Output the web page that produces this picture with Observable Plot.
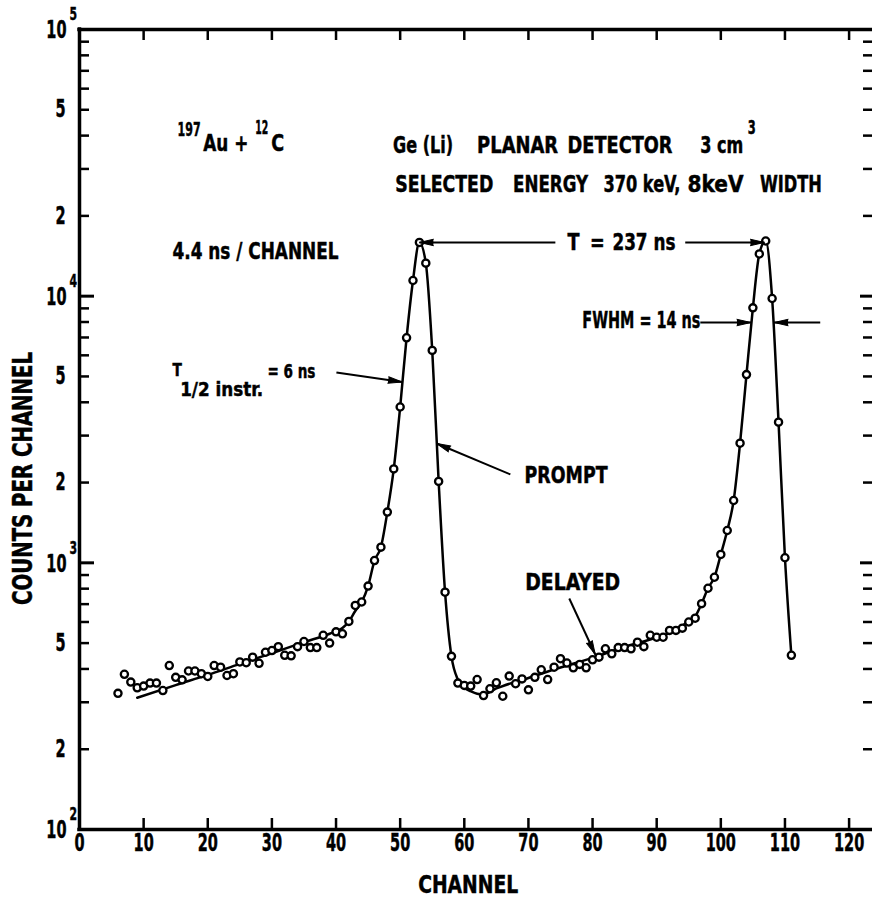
<!DOCTYPE html>
<html>
<head>
<meta charset="utf-8">
<script src="https://cdn.jsdelivr.net/npm/d3@7"></script>
<script src="https://cdn.jsdelivr.net/npm/@observablehq/plot@0.6"></script>
<style>
  html, body { margin: 0; padding: 0; background: #fff; }
  svg { display: block; }
  svg text { stroke: #000; stroke-width: 0.45px; }
</style>
</head>
<body>
<div id="chart"></div>
<script>
// ---------------- data ----------------
const channels = [6,7,8,9,10,11,12,13,14,15,16,17,18,19,20,21,22,23,24,25,26,27,28,29,30,31,32,33,34,35,36,37,38,39,40,41,42,43,44,45,46,47,48,49,50,51,52,53,54,55,56,57,58,59,60,61,62,63,64,65,66,67,68,69,70,71,72,73,74,75,76,77,78,79,80,81,82,83,84,85,86,87,88,89,90,91,92,93,94,95,96,97,98,99,100,101,102,103,104,105,106,107,108,109,110,111];
const counts = [324,382,357,340,345,354,354,332,412,372,364,393,393,384,375,412,406,378,384,425,422,443,420,462,469,485,450,448,485,507,481,481,535,500,551,542,603,692,713,818,1020,1145,1550,2250,3840,6980,11450,15900,13300,6260,2020,776,446,354,347,345,365,318,337,355,316,376,352,367,334,372,397,365,406,437,421,404,416,404,433,443,476,456,481,481,476,504,485,535,526,526,558,558,569,600,620,703,803,883,1075,1322,1713,2810,5080,9040,14400,16100,9800,3370,1045,450];

// drawn fit curve
const fitChannels = [9,15,20,25,30,35,39,41,42,43,44,45,46,47,48,49,50,51,52,53,54,55,56,57,58,59,60,61,62,63,65,70,75,80,85,90,93,95,96,97,98,99,100,101,102,103,104,105,106,107,108,109,110,111];
const fitCounts = [312,348,380,418,458,504,542,570,603,660,713,818,1020,1145,1550,2250,3840,6980,11450,15900,13300,6260,2020,776,446,365,340,330,323,321,338,370,405,440,485,525,560,605,630,703,803,883,1075,1322,1713,2810,5080,9040,14400,16100,9800,3370,1045,450];

// axes
const xTicks = [0,10,20,30,40,50,60,70,80,90,100,110,120];
const yDecades = [100,1000,10000,100000];
const yDecadeExponents = ["2","3","4","5"];
const yMinorTicks = [200,300,400,500,600,700,800,900,2000,3000,4000,5000,6000,7000,8000,9000,20000,30000,40000,50000,60000,70000,80000,90000];
const yMidLabelValues = [200,500,2000,5000,20000,50000];
const yMidLabels = ["2","5","2","5","2","5"];
const xTitle = "CHANNEL";
const yTitle = "COUNTS PER CHANNEL";

// annotations (channel, counts at text baseline, printed width in px)
const textMain = [
  {t: "Au +", x: 19.3, y: 34900, w: 45},
  {t: "C", x: 29.9, y: 34900},
  {t: "Ge (Li)", x: 48.9, y: 34300, w: 60},
  {t: "PLANAR", x: 62.0, y: 34300, w: 81},
  {t: "DETECTOR", x: 76.1, y: 34300, w: 105},
  {t: "3 cm", x: 96.8, y: 34300, w: 43},
  {t: "SELECTED", x: 49.25, y: 24500, w: 98},
  {t: "ENERGY", x: 67.6, y: 24500, w: 75},
  {t: "370 keV,", x: 81.7, y: 24500, w: 77},
  {t: "8keV", x: 94.8, y: 24500, w: 56},
  {t: "WIDTH", x: 106.1, y: 24500, w: 62},
  {t: "4.4 ns / CHANNEL", x: 14.5, y: 13840, w: 166},
  {t: "T", x: 76.1, y: 14960},
  {t: "=", x: 79.6, y: 14960},
  {t: "237 ns", x: 83.1, y: 14960, w: 63},
  {t: "FWHM = 14 ns", x: 78.4, y: 7565, w: 118},
  {t: "PROMPT", x: 69.4, y: 2001, w: 83},
  {t: "DELAYED", x: 69.5, y: 788, w: 95}
];
const textSup = [
  {t: "197", x: 15.3, y: 40000, w: 23},
  {t: "12", x: 27.4, y: 40500, w: 13},
  {t: "3", x: 104.2, y: 40500}
];
const textHalf = [
  {t: "T", x: 14.5, y: 5040, s: 18},
  {t: "1/2 instr.", x: 15.7, y: 4240, s: 20, w: 83},
  {t: "= 6 ns", x: 29.3, y: 4913, s: 20, w: 48}
];
const titleWidths = [{t: xTitle, w: 100}, {t: yTitle, w: 253}];
const arrows = [
  {x1: 74.2, y1: 15900, x2: 53.0, y2: 15900},
  {x1: 94.45, y1: 15900, x2: 106.8, y2: 15900},
  {x1: 96.8, y1: 7965, x2: 104.7, y2: 7965},
  {x1: 115.5, y1: 7965, x2: 108.3, y2: 7965},
  {x1: 40.06, y1: 5173, x2: 50.3, y2: 4766},
  {x1: 67.18, y1: 2145, x2: 55.7, y2: 2802},
  {x1: 76.37, y1: 735, x2: 80.42, y2: 453}
];

// ---------------- chart ----------------
const W = 872, H = 899, ML = 79, MR = 0, MT = 29, MB = 70;
const frameW = W - ML - MR, frameH = H - MT - MB;
const xDomain = [0, 123.65], yDomain = [100, 100000];
const FONT = '"DejaVu Sans", sans-serif';

const sx = Plot.scale({x: {domain: xDomain, range: [ML, W - MR]}});
const sy = Plot.scale({y: {type: "log", domain: yDomain, range: [H - MB, MT]}});
const angle = d => Math.atan2(sx.apply(d.x2) - sx.apply(d.x1), -(sy.apply(d.y2) - sy.apply(d.y1))) * 180 / Math.PI;

const points = channels.map((c, i) => ({c, n: counts[i]}));
const fit = fitChannels.map((c, i) => ({c, n: fitCounts[i]}));

const chart = Plot.plot({
  width: W, height: H,
  marginLeft: ML, marginRight: MR, marginTop: MT, marginBottom: MB,
  x: {domain: xDomain, axis: null},
  y: {type: "log", domain: yDomain, axis: null},
  style: {fontFamily: FONT, fontWeight: "bold", fontStretch: "condensed", background: "#fff", color: "#000"},
  marks: [
    // frame
    Plot.ruleX([0], {strokeWidth: 3.5, strokeLinecap: "square"}),
    Plot.ruleY([100], {strokeWidth: 3.5, strokeLinecap: "square"}),
    Plot.ruleY([100000], {strokeWidth: 3.5, strokeLinecap: "square"}),
    // ticks (inward)
    Plot.tickY(yDecades, {y: d => d, insetRight: frameW - 15, strokeWidth: 3}),
    Plot.tickY(yMinorTicks, {y: d => d, insetRight: frameW - 10, strokeWidth: 2.5}),
    Plot.tickY(yDecades, {y: d => d, insetLeft: frameW - 12, strokeWidth: 3}),
    Plot.tickY(yMinorTicks, {y: d => d, insetLeft: frameW - 9, strokeWidth: 2.5}),
    Plot.tickX(xTicks.filter(d => d > 0), {x: d => d, insetTop: frameH - 11, strokeWidth: 2.5}),
    Plot.tickX(xTicks.filter(d => d > 0), {x: d => d, insetBottom: frameH - 11, strokeWidth: 2.5}),
    // tick labels
    Plot.text(xTicks, {x: d => d, text: d => String(d), frameAnchor: "bottom", textAnchor: "middle", dy: 21, fontSize: 24}),
    Plot.text(yMidLabelValues, {y: d => d, text: (d, i) => yMidLabels[i], frameAnchor: "left", textAnchor: "end", dx: -14, fontSize: 24}),
    Plot.text(yDecades, {y: d => d, text: () => "10", frameAnchor: "left", textAnchor: "end", dx: -13, dy: 1, fontSize: 24}),
    Plot.text(yDecades, {y: d => d, text: (d, i) => yDecadeExponents[i], frameAnchor: "left", textAnchor: "start", dx: -10, dy: -15, fontSize: 18}),
    // axis titles
    Plot.text([xTitle], {x: 60.6, frameAnchor: "bottom", textAnchor: "middle", dy: 63, lineAnchor: "bottom", fontSize: 24}),
    Plot.text([yTitle], {y: 2072, frameAnchor: "left", textAnchor: "middle", lineAnchor: "middle", dx: -56, rotate: -90, fontSize: 26}),
    // fit curve and data
    Plot.line(fit, {x: "c", y: "n", curve: "monotone-x", strokeWidth: 2.5}),
    Plot.dot(points, {x: "c", y: "n", r: 3.6, fill: "#fff", stroke: "#000", strokeWidth: 2.3}),
    // annotations
    Plot.text(textMain, {x: "x", y: "y", text: "t", textAnchor: "start", lineAnchor: "bottom", fontSize: 23}),
    Plot.text(textSup, {x: "x", y: "y", text: "t", textAnchor: "start", lineAnchor: "bottom", fontSize: 19}),
    Plot.text(textHalf.filter(d => d.s === 18), {x: "x", y: "y", text: "t", textAnchor: "start", lineAnchor: "bottom", fontSize: 18}),
    Plot.text(textHalf.filter(d => d.s === 20), {x: "x", y: "y", text: "t", textAnchor: "start", lineAnchor: "bottom", fontSize: 20}),
    Plot.link(arrows, {x1: "x1", y1: "y1", x2: "x2", y2: "y2", strokeWidth: 2}),
    Plot.vector(arrows, {x: "x2", y: "y2", rotate: angle, length: 14, r: 3.2, shape: "spike", anchor: "end", fill: "#000", stroke: "#000", strokeWidth: 1})
  ]
});
document.getElementById("chart").appendChild(chart);

// narrow lettering like the original stencil font: fit each text to its printed width
const widthMap = new Map([...textMain, ...textSup, ...textHalf, ...titleWidths].filter(d => d.w).map(d => [d.t, d.w]));
chart.querySelectorAll("text").forEach(el => {
  const s = el.textContent;
  const fs = parseFloat(getComputedStyle(el).fontSize);
  let w;
  if (widthMap.has(s)) w = widthMap.get(s);
  else if (/^\d+$/.test(s)) w = 0.42 * fs * s.length;
  else w = 0.85 * el.getComputedTextLength();
  el.setAttribute("textLength", w);
  el.setAttribute("lengthAdjust", "spacingAndGlyphs");
});
</script>
</body>
</html>
